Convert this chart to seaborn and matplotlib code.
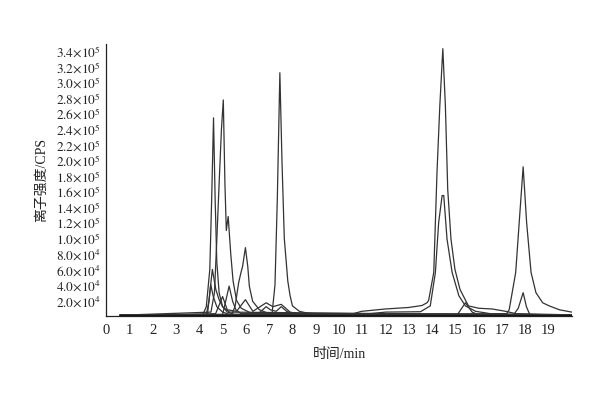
import matplotlib
matplotlib.use("Agg")
import matplotlib.pyplot as plt
import seaborn as sns
import pandas as pd

# ---- data (time in min, intensity in CPS) ----
t_a = [0.6, 4.15, 4.3, 4.45, 4.53, 4.61, 4.68, 4.75, 4.85, 5.0, 5.2, 5.5, 20.0]
i_a = [1500, 1500, 12000, 60000, 150000, 255000, 150000, 70000, 30000, 12000, 5000, 2000, 1500]

t_b = [0.6, 4.5, 4.65, 4.74, 4.85, 4.95, 5.03, 5.1, 5.16, 5.24, 5.35, 5.45, 5.6, 5.8, 6.2, 20.0]
i_b = [1000, 5000, 30000, 90000, 170000, 240000, 278000, 170000, 110000, 128000, 80000, 45000, 20000, 10000, 4000, 1000]

t_c = [0.6, 5.4, 5.54, 5.69, 5.79, 5.86, 5.98, 6.08, 6.15, 6.29, 6.58, 7.0, 20.0]
i_c = [1000, 2000, 13000, 43000, 56000, 64000, 88000, 64000, 38000, 19000, 8000, 3000, 1000]

t_d = [0.6, 7.12, 7.25, 7.35, 7.46, 7.55, 7.65, 7.8, 7.9, 8.0, 8.3, 8.6, 9.0, 20.0]
i_d = [1500, 1500, 40000, 150000, 313000, 200000, 100000, 45000, 26000, 13000, 6000, 4000, 2500, 1500]

t_e = [0.6, 4.35, 4.45, 4.56, 4.71, 4.85, 5.0, 5.3, 20.0]
i_e = [800, 2000, 30000, 60000, 34000, 21000, 12000, 5000, 800]

t_f = [0.6, 4.3, 4.42, 4.49, 4.6, 4.75, 5.0, 5.3, 20.0]
i_f = [800, 1500, 20000, 40600, 25000, 12000, 5000, 2000, 800]

t_g = [0.6, 5.0, 5.14, 5.28, 5.43, 5.57, 5.8, 20.0]
i_g = [600, 2000, 20000, 38500, 19000, 8000, 3000, 600]

t_h = [0.6, 4.7, 5.0, 5.2, 5.6, 5.98, 6.3, 6.87, 7.16, 7.52, 7.9, 8.5, 20.0]
i_h = [600, 3000, 25000, 8000, 6000, 21000, 6000, 17000, 12000, 15000, 5000, 1500, 600]

t_i = [0.6, 6.5, 6.87, 7.05, 7.3, 7.52, 7.75, 8.2, 20.0]
i_i = [500, 2000, 12000, 8000, 6000, 12000, 6000, 1500, 500]

t_j = [0.6, 10.5, 10.97, 11.98, 13.0, 13.56, 13.78, 13.85, 14.07, 14.21, 14.33, 14.46,
       14.57, 14.67, 14.81, 14.98, 15.2, 15.56, 16.0, 16.59, 17.16, 17.6, 20.0]
i_j = [1500, 2000, 6000, 9000, 11000, 13500, 17000, 20000, 56000, 185000, 270000, 344000,
       270000, 163000, 99000, 60000, 34000, 13000, 10000, 9000, 6000, 3000, 1500]

t_k = [0.6, 10.8, 12.0, 13.5, 13.92, 14.14, 14.28, 14.43, 14.5, 14.64, 14.86, 15.15,
       15.43, 15.87, 16.5, 20.0]
i_k = [1000, 1500, 5000, 5500, 13000, 56000, 120000, 155000, 155000, 99000, 56000, 26000,
       13000, 6000, 3000, 1000]

t_l = [0.6, 15.08, 15.43, 15.72, 16.0, 20.0]
i_l = [800, 1500, 17000, 5000, 1500, 800]

t_m = [0.6, 17.2, 17.31, 17.59, 17.74, 17.91, 18.06, 18.25, 18.46, 18.75, 19.03, 19.47, 20.0]
i_m = [1500, 3000, 8000, 56000, 120000, 192000, 120000, 56000, 30000, 17000, 13000, 8000, 5000]

t_n = [0.6, 17.5, 17.7, 17.91, 18.05, 18.2, 20.0]
i_n = [800, 1500, 10000, 30000, 12000, 1500, 800]

trace_times = [t_a, t_b, t_c, t_d, t_e, t_f, t_g, t_h, t_i, t_j, t_k, t_l, t_m, t_n]
trace_ints = [i_a, i_b, i_c, i_d, i_e, i_f, i_g, i_h, i_i, i_j, i_k, i_l, i_m, i_n]

baseline_t = [0.6, 20.0]
baseline_i = [0, 0]

y_ticks = [20000, 40000, 60000, 80000, 100000, 120000, 140000, 160000, 180000, 200000,
           220000, 240000, 260000, 280000, 300000, 320000, 340000]
y_tick_labels = [r"$2.0{\times}10^{4}$", r"$4.0{\times}10^{4}$", r"$6.0{\times}10^{4}$",
                 r"$8.0{\times}10^{4}$", r"$1.0{\times}10^{5}$", r"$1.2{\times}10^{5}$",
                 r"$1.4{\times}10^{5}$", r"$1.6{\times}10^{5}$", r"$1.8{\times}10^{5}$",
                 r"$2.0{\times}10^{5}$", r"$2.2{\times}10^{5}$", r"$2.4{\times}10^{5}$",
                 r"$2.6{\times}10^{5}$", r"$2.8{\times}10^{5}$", r"$3.0{\times}10^{5}$",
                 r"$3.2{\times}10^{5}$", r"$3.4{\times}10^{5}$"]
x_ticks = list(range(0, 20))
x_label = "时间/min"
y_label = "离子强度/CPS"

# ---- build long table ----
rows = []
for k, (tt, ii) in enumerate(zip(trace_times, trace_ints)):
    for t, v in zip(tt, ii):
        rows.append({"trace": k, "time": t, "intensity": v})
df = pd.DataFrame(rows)
df_base = pd.DataFrame({"trace": 0, "time": baseline_t, "intensity": baseline_i})

sns.set_theme(style="white")
plt.rcParams["font.family"] = ["Liberation Serif", "Noto Sans CJK SC", "DejaVu Sans"]
plt.rcParams["mathtext.fontset"] = "stix"

fig = plt.figure(figsize=(6, 4), dpi=100)
ax = fig.add_axes([0.177, 0.21, 0.776, 0.68])

sns.lineplot(data=df, x="time", y="intensity", units="trace", estimator=None,
             color="#333333", linewidth=0.9, ax=ax, legend=False, sort=False)
sns.lineplot(data=df_base, x="time", y="intensity", units="trace", estimator=None,
             color="#111111", linewidth=2.0, ax=ax, legend=False, sort=False)

ax.set_xlim(0, 20)
ax.set_ylim(0, 350000)
ax.set_xticks(x_ticks)
ax.set_xticklabels([str(v) for v in x_ticks], fontsize=10.5)
ax.set_yticks(y_ticks)
ax.set_yticklabels(y_tick_labels, fontsize=9.5)
ax.tick_params(axis="x", direction="in", length=3, width=0.8, colors="#222222", pad=6)
ax.tick_params(axis="y", direction="out", length=3, width=0.8, colors="#222222", pad=1)

for s in ["top", "right"]:
    ax.spines[s].set_visible(False)
for s in ["left", "bottom"]:
    ax.spines[s].set_color("#222222")
    ax.spines[s].set_linewidth(0.9)

ax.set_xlabel(x_label, fontsize=10, color="#222222", labelpad=8)
ax.set_ylabel(y_label, fontsize=10, color="#222222", labelpad=6)
ax.grid(False)

fig.savefig("out.png", dpi=100, facecolor="white")
